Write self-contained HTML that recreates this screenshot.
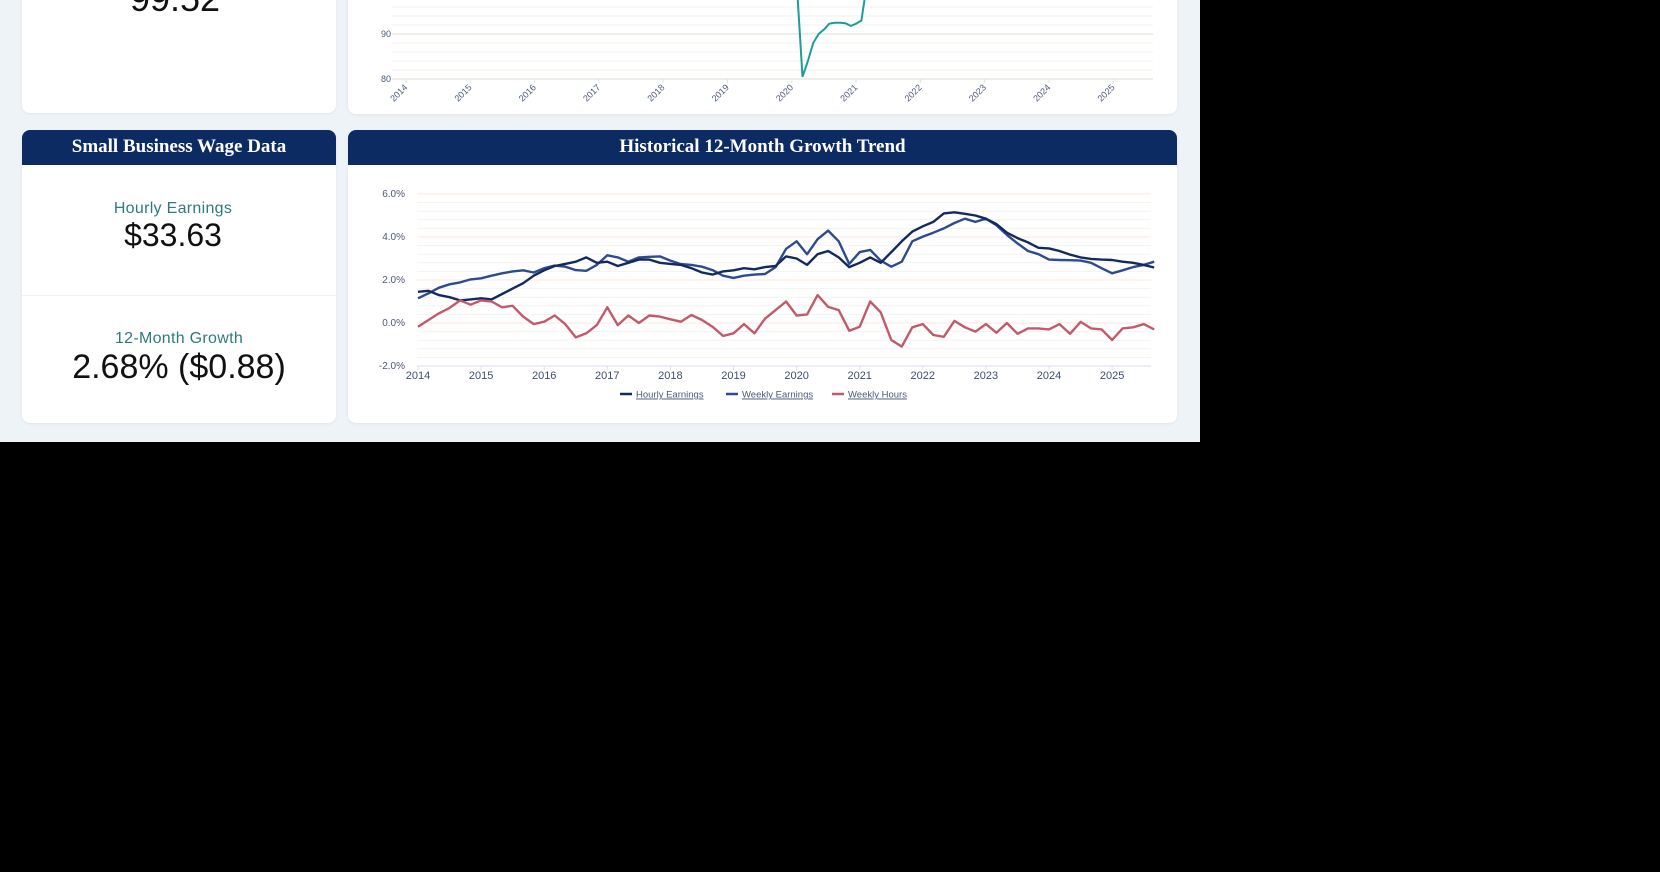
<!DOCTYPE html>
<html><head><meta charset="utf-8"><style>
html,body{margin:0;padding:0;background:#000;width:1660px;height:872px;overflow:hidden;font-family:"Liberation Sans",sans-serif}
#bg{position:absolute;left:0;top:0;width:1200px;height:442px;background:#eef3f7}
.card{position:absolute;background:#fff;border-radius:8px;box-shadow:0 1px 3px rgba(0,0,0,.06);overflow:hidden}
.hdr{height:35px;background:#0d2b63;color:#fff;font-family:"Liberation Serif",serif;font-weight:bold;font-size:19px;text-align:center;line-height:34px}
.lab{position:absolute;left:0;right:0;text-align:center;color:#2f7a7c;font-size:16px;letter-spacing:.3px}
.val{position:absolute;left:0;right:0;text-align:center;color:#111;}
svg{position:absolute;left:0;top:0}
</style></head><body>
<div id="bg"></div>
<div class="card" style="left:22px;top:-10px;width:314px;height:123px">
 <div class="val" style="top:-12px;font-size:36px;left:-8px">99.52</div>
</div>
<div class="card" style="left:348px;top:-10px;width:829px;height:124px"></div>
<div class="card" style="left:22px;top:130px;width:314px;height:293px">
 <div class="hdr">Small Business Wage Data</div>
 <div class="lab" style="top:70px;left:-12px">Hourly Earnings</div>
 <div class="val" style="top:87px;font-size:32px;left:-12px">$33.63</div>
 <div style="position:absolute;left:0;right:0;top:165px;border-top:1px solid #eef1f4"></div>
 <div class="lab" style="top:200px">12-Month Growth</div>
 <div class="val" style="top:218px;font-size:34px">2.68% ($0.88)</div>
</div>
<div class="card" style="left:348px;top:130px;width:829px;height:293px">
 <div class="hdr">Historical 12-Month Growth Trend</div>
</div>
<svg id="chart" width="1660" height="872"></svg>
<script>
// top chart data
const topDates=[2014.0,2015.0,2016.0,2017.0,2018.0,2019.0,2020.0,2020.083,2020.167,2020.25,2020.333,2020.417,2020.5,2020.583,2020.667,2020.75,2020.833,2020.917,2021.0,2021.083,2021.167,2022.0,2023.0,2024.0,2025.0,2025.6];
const topValues=[100,100,100,100,100,100,100,100,80.5,84,88,90,91,92.3,92.5,92.5,92.4,91.8,92.3,93,101,101,101,101,101,101];
const topYTicks=[80,90];
const topXTicks=["2014","2015","2016","2017","2018","2019","2020","2021","2022","2023","2024","2025"];
// growth chart data (bimonthly from Jan 2014)
const startYear=2014, stepYears=1/6;
const hourly=[1.45,1.5,1.3,1.2,1.05,1.1, 1.15,1.1,1.35,1.6,1.85,2.2, 2.45,2.65,2.75,2.85,3.05,2.8, 2.85,2.65,2.8,2.95,2.95,2.8, 2.75,2.7,2.55,2.35,2.25,2.4, 2.45,2.55,2.5,2.6,2.65,3.1, 3.0,2.7,3.2,3.35,3.05,2.6, 2.8,3.05,2.8,3.3,3.8,4.25, 4.5,4.7,5.1,5.15,5.08,5.0, 4.85,4.6,4.2,3.95,3.75,3.5, 3.47,3.35,3.18,3.05,2.98,2.95, 2.93,2.85,2.8,2.7,2.58];
const weekly=[1.15,1.38,1.64,1.8,1.89,2.03, 2.08,2.2,2.31,2.4,2.45,2.35, 2.55,2.67,2.62,2.46,2.43,2.7, 3.15,3.05,2.85,3.05,3.08,3.1, 2.9,2.74,2.7,2.62,2.46,2.2, 2.1,2.2,2.25,2.28,2.6,3.45, 3.8,3.2,3.9,4.3,3.8,2.75, 3.3,3.4,2.9,2.62,2.85,3.8, 4.02,4.2,4.4,4.65,4.85,4.7, 4.85,4.55,4.1,3.7,3.35,3.2, 2.95,2.93,2.92,2.9,2.8,2.55, 2.31,2.45,2.6,2.7,2.85];
const hours=[-0.17,0.14,0.45,0.7,1.05,0.85, 1.05,1.0,0.73,0.8,0.3,-0.05, 0.06,0.35,-0.05,-0.67,-0.48,-0.1, 0.73,-0.1,0.35,0.0,0.35,0.3, 0.17,0.06,0.37,0.14,-0.17,-0.6, -0.48,-0.05,-0.48,0.2,0.6,1.0, 0.35,0.4,1.3,0.75,0.6,-0.36, -0.17,1.0,0.5,-0.79,-1.1,-0.2, -0.05,-0.56,-0.64,0.1,-0.2,-0.4, -0.05,-0.45,0.0,-0.5,-0.25,-0.25, -0.3,-0.05,-0.5,0.05,-0.25,-0.3, -0.79,-0.25,-0.2,-0.05,-0.3];
const growthYTicks=[-2,0,2,4,6];
const growthXTicks=["2014","2015","2016","2017","2018","2019","2020","2021","2022","2023","2024","2025"];
const seriesNames=["Hourly Earnings","Weekly Earnings","Weekly Hours"];

const NS="http://www.w3.org/2000/svg";
const svg=document.getElementById('chart');
function mk(tag,attrs,parent){const e=document.createElementNS(NS,tag);for(const k in attrs)e.setAttribute(k,attrs[k]);(parent||svg).appendChild(e);return e;}

// top chart
const tx=t=>406+(t-2014)*64.3, ty=v=>79-(v-80)*4.5;
const gTop=mk('g',{'clip-path':'url(#topclip)'});


const defs=mk('defs',{});
const cp=mk('clipPath',{id:'topclip'},defs);mk('rect',{x:340,y:0,width:840,height:113},cp);
for(let v=80;v<=98;v+=2){const l=mk('line',{x1:392,x2:1153,y1:ty(v),y2:ty(v),stroke:v%10==0?'#ece9e2':'#f3f1ec','stroke-width':v%10==0?1.5:1},gTop);}
topYTicks.forEach(v=>{const t=mk('text',{x:391,y:ty(v)+3,'text-anchor':'end','font-size':9,fill:'#4a5a78'},gTop);t.textContent=v;});
topXTicks.forEach((s,i)=>{const x=tx(2014+i);mk('line',{x1:x,x2:x,y1:79,y2:83,stroke:'#dde3ea'},gTop);const t=mk('text',{x:x+2,y:88,'text-anchor':'end','font-size':9,fill:'#4a5a78',transform:`rotate(-45 ${x+2} 88)`},gTop);t.textContent=s;});
const tl=mk('path',{d:topDates.map((d,i)=>(i?'L':'M')+tx(d).toFixed(1)+','+ty(topValues[i]).toFixed(1)).join(''),fill:'none',stroke:'#1a9e9a','stroke-width':2},gTop);


// growth chart
const gx=t=>418+(t-2014)*63.1, gy=v=>323-v*21.5;
const g=mk('g',{});


for(let v=-2;v<=6.01;v+=0.4){const major=Math.abs(v-Math.round(v))<0.01&&Math.round(v)%2==0;const l=mk('line',{x1:417,x2:1151,y1:gy(v),y2:gy(v),stroke:major?'#f6e7dc':'#f3f2ef','stroke-width':1},g);}
mk('line',{x1:417,x2:1151,y1:gy(-2),y2:gy(-2),stroke:'#d9e0ee'},g);
growthYTicks.forEach(v=>{const t=mk('text',{x:405,y:gy(v)+3,'text-anchor':'end','font-size':10,fill:'#4a5a78'},g);t.textContent=v.toFixed(1)+'%';});
growthXTicks.forEach((s,i)=>{const x=gx(2014+i);mk('line',{x1:x,x2:x,y1:gy(-2),y2:gy(-2)+4,stroke:'#d9e0ee'},g);const t=mk('text',{x:x,y:379,'text-anchor':'middle','font-size':11,fill:'#3e4e6e'},g);t.textContent=s;});
const colors=['#132a5e','#2d4b8f','#c25a6c'];
const names=['hourly-earnings-line','weekly-earnings-line','weekly-hours-line'];
[weekly,hourly,hours].forEach((arr,k)=>{const idx=[1,0,2][k];const p=mk('path',{d:arr.map((v,i)=>(i?'L':'M')+gx(startYear+i*stepYears).toFixed(1)+','+gy(v).toFixed(1)).join(''),fill:'none',stroke:colors[idx],'stroke-width':2.4,'stroke-linejoin':'round'},g);});
// legend
const legX=[620,726,832];
seriesNames.forEach((n,i)=>{const lg=mk('g',{},g);
 mk('line',{x1:legX[i],x2:legX[i]+12,y1:394,y2:394,stroke:colors[i],'stroke-width':2.5},lg);
 const t=mk('text',{x:legX[i]+16,y:397.5,'font-size':9.5,fill:'#4a5a78','text-decoration':'underline'},lg);t.textContent=n;});
</script>
</body></html>
